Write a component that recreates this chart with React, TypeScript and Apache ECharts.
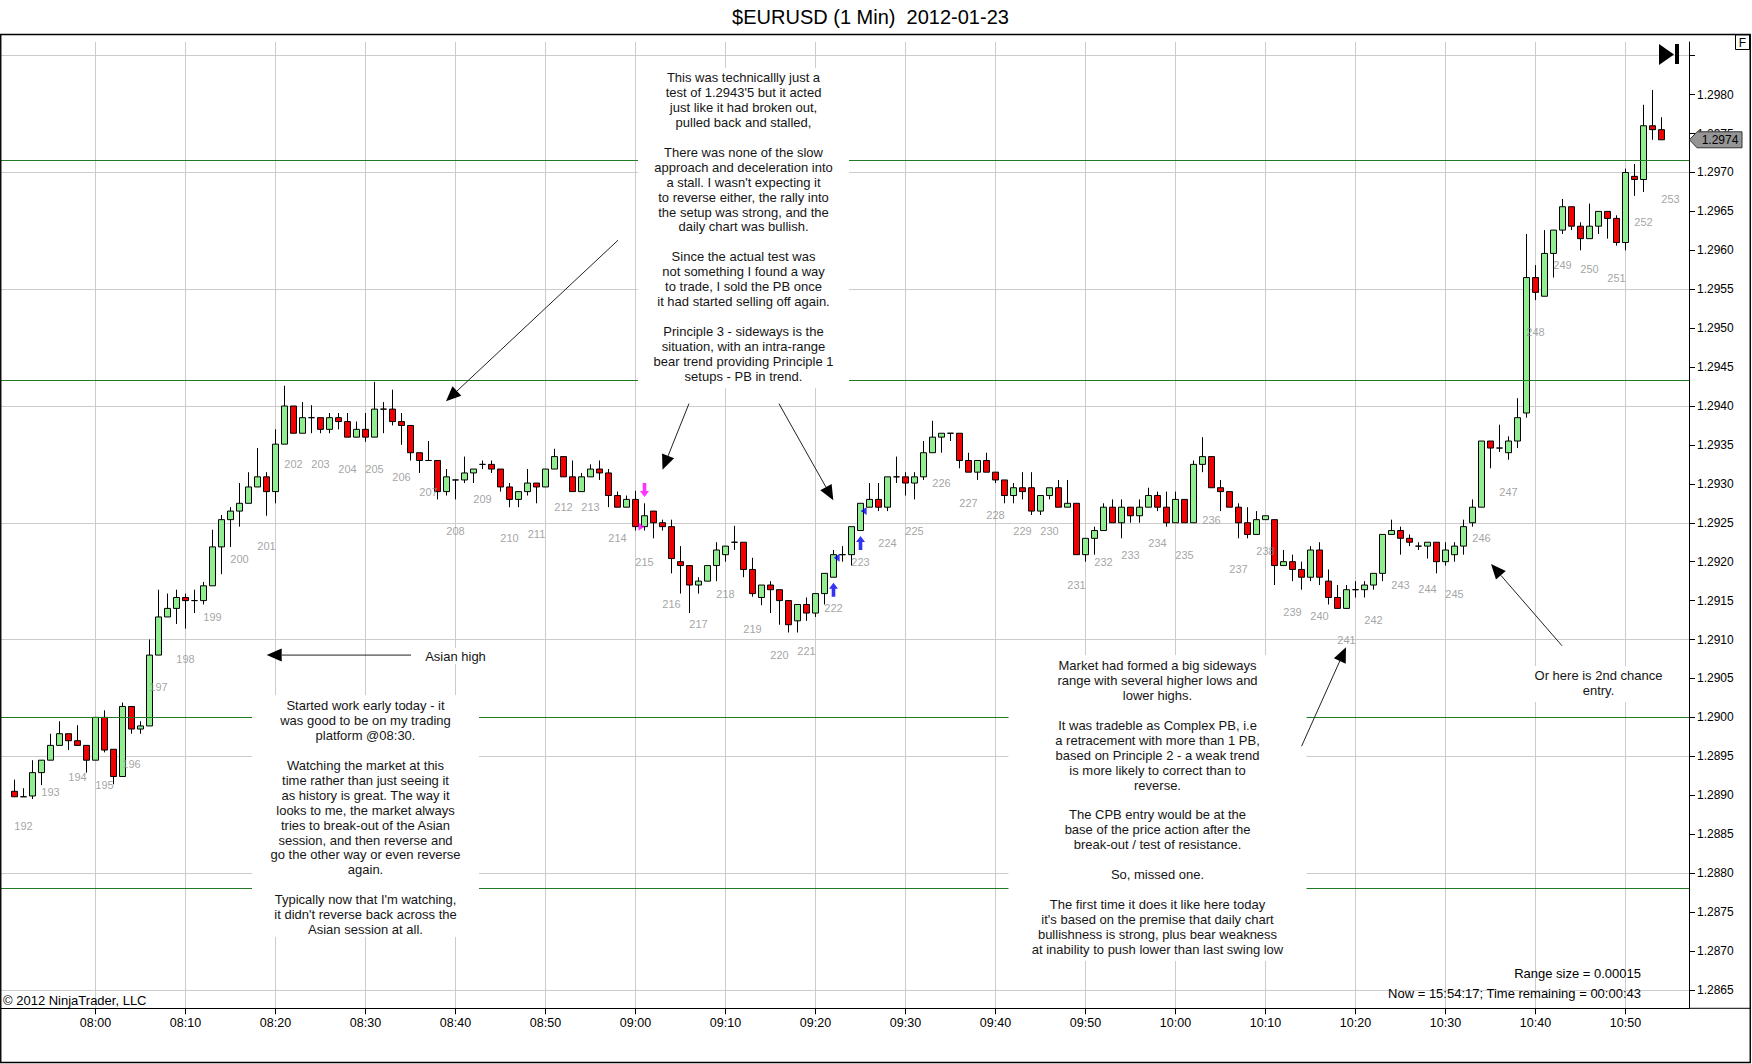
import React, { useEffect, useRef } from "react";
import * as echarts from "echarts";

const FONT = '"Liberation Sans", Arial, Helvetica, sans-serif';

// first bar: 07:51 (minutes after midnight), one bar per minute
const START_MINUTE = 471;

const OPEN = [
  1.28905, 1.28898, 1.28899, 1.28929, 1.28945, 1.28964, 1.28979, 1.2897, 1.28964, 1.28945,
  1.29, 1.28959, 1.28924, 1.29014, 1.28985, 1.28989, 1.2908, 1.29129, 1.2914, 1.29154,
  1.2915, 1.2915, 1.29169, 1.29219, 1.29254, 1.29265, 1.29275, 1.29296, 1.29309, 1.2929,
  1.29351, 1.294, 1.29365, 1.29385, 1.29385, 1.2937, 1.29385, 1.2938, 1.2936, 1.2937,
  1.2936, 1.29396, 1.29396, 1.2938, 1.29375, 1.2934, 1.2933, 1.2933, 1.2929, 1.29305,
  1.29305, 1.29314, 1.29325, 1.29325, 1.29319, 1.29296, 1.2928, 1.2929, 1.29301, 1.29296,
  1.29319, 1.29335, 1.29309, 1.2929, 1.29309, 1.29319, 1.29314, 1.29285, 1.2927, 1.2928,
  1.29245, 1.29265, 1.2925, 1.29245, 1.292, 1.29195, 1.2917, 1.29175, 1.29195, 1.29209,
  1.29225, 1.29225, 1.2919, 1.29154, 1.2917, 1.29164, 1.2915, 1.29124, 1.29145, 1.29134,
  1.29159, 1.2918, 1.29209, 1.29209, 1.2924, 1.2927, 1.2928, 1.2927, 1.29309, 1.29309,
  1.29301, 1.29309, 1.2934, 1.2936, 1.29365, 1.29365, 1.2933, 1.29315, 1.2933, 1.29315,
  1.29305, 1.29285, 1.29295, 1.29295, 1.29265, 1.29285, 1.29295, 1.2927, 1.29275, 1.29209,
  1.2923, 1.2924, 1.2927, 1.2925, 1.2927, 1.29259, 1.2927, 1.29285, 1.2927, 1.2925,
  1.2928, 1.2925, 1.29325, 1.29335, 1.29295, 1.2929, 1.2927, 1.2925, 1.29235, 1.29254,
  1.29254, 1.29195, 1.292, 1.2919, 1.2918, 1.29215, 1.29175, 1.29154, 1.2914, 1.29164,
  1.29164, 1.2917, 1.29185, 1.29235, 1.2924, 1.2923, 1.2922, 1.2922, 1.29225, 1.292,
  1.29209, 1.2922, 1.2925, 1.2927, 1.29355, 1.29346, 1.2934, 1.29355, 1.29391, 1.29565,
  1.29541, 1.29596, 1.29626, 1.29656, 1.29631, 1.29615, 1.29631, 1.2965, 1.29641, 1.2961,
  1.29695, 1.29691, 1.2976, 1.29755,
];
const HIGH = [
  1.2892, 1.28909, 1.28945, 1.28945, 1.28979, 1.28995, 1.28979, 1.2899, 1.28964, 1.29,
  1.29009, 1.28959, 1.29019, 1.29014, 1.28995, 1.291, 1.29164, 1.29159, 1.29164, 1.29159,
  1.29164, 1.29174, 1.29241, 1.2926, 1.2927, 1.29301, 1.29315, 1.29346, 1.29315, 1.2937,
  1.29426, 1.294, 1.29405, 1.29401, 1.29385, 1.29391, 1.29391, 1.29391, 1.2938, 1.29391,
  1.29431, 1.29405, 1.29421, 1.29391, 1.29375, 1.2934, 1.29355, 1.2933, 1.29319, 1.29305,
  1.29335, 1.29319, 1.2933, 1.2933, 1.29319, 1.29301, 1.2929, 1.29319, 1.29301, 1.29319,
  1.29345, 1.29335, 1.2933, 1.29314, 1.29325, 1.2933, 1.29319, 1.2929, 1.29285, 1.29291,
  1.29275, 1.29265, 1.29254, 1.29254, 1.2922, 1.29195, 1.2918, 1.29195, 1.29225, 1.2922,
  1.29246, 1.29225, 1.29205, 1.2917, 1.29175, 1.29164, 1.2915, 1.29145, 1.29154, 1.29159,
  1.29185, 1.29215, 1.2922, 1.29245, 1.29275, 1.29301, 1.29301, 1.29309, 1.29335, 1.29315,
  1.29315, 1.29355, 1.29381, 1.29365, 1.29365, 1.29365, 1.2934, 1.2933, 1.2934, 1.29315,
  1.29305, 1.29301, 1.29315, 1.29315, 1.29285, 1.29295, 1.29305, 1.29305, 1.29275, 1.2923,
  1.29245, 1.29275, 1.2928, 1.2928, 1.2927, 1.2928, 1.29295, 1.2929, 1.2929, 1.2929,
  1.2928, 1.2933, 1.2936, 1.29335, 1.29305, 1.2929, 1.29275, 1.2927, 1.29265, 1.29259,
  1.29254, 1.29215, 1.29209, 1.292, 1.2922, 1.29225, 1.2919, 1.2917, 1.2917, 1.29175,
  1.29175, 1.29185, 1.29235, 1.29254, 1.29245, 1.29235, 1.29225, 1.29225, 1.29225, 1.29225,
  1.29225, 1.29254, 1.2928, 1.29355, 1.29355, 1.29376, 1.29361, 1.2941, 1.29621, 1.29581,
  1.29626, 1.29626, 1.29666, 1.29656, 1.29636, 1.2966, 1.2965, 1.2965, 1.29645, 1.29705,
  1.29711, 1.29787, 1.29806, 1.29771,
];
const LOW = [
  1.28898, 1.28898, 1.28895, 1.28913, 1.28945, 1.28964, 1.28958, 1.28964, 1.28929, 1.28945,
  1.28955, 1.28914, 1.28924, 1.28979, 1.28979, 1.28989, 1.2908, 1.29129, 1.2912, 1.29114,
  1.29134, 1.29145, 1.29169, 1.29184, 1.29219, 1.29245, 1.29275, 1.29296, 1.29259, 1.29275,
  1.29351, 1.29365, 1.29365, 1.29365, 1.29365, 1.29365, 1.2937, 1.2936, 1.2936, 1.29354,
  1.2936, 1.29365, 1.29375, 1.2935, 1.2933, 1.29314, 1.2933, 1.2928, 1.29285, 1.2928,
  1.29301, 1.29301, 1.29319, 1.29314, 1.2929, 1.2927, 1.2927, 1.29285, 1.29275, 1.29296,
  1.29319, 1.29309, 1.2929, 1.2929, 1.29309, 1.29305, 1.2927, 1.2927, 1.2927, 1.2924,
  1.2924, 1.2923, 1.2924, 1.29185, 1.29159, 1.29134, 1.29159, 1.29175, 1.29175, 1.292,
  1.29215, 1.2918, 1.29155, 1.29144, 1.29134, 1.29119, 1.29109, 1.29109, 1.29124, 1.29129,
  1.29145, 1.2918, 1.292, 1.29195, 1.2924, 1.2927, 1.29265, 1.29265, 1.29301, 1.29285,
  1.2928, 1.29305, 1.2934, 1.2934, 1.29355, 1.2932, 1.29315, 1.29305, 1.29315, 1.29301,
  1.29275, 1.29275, 1.2928, 1.2926, 1.2926, 1.2928, 1.2927, 1.2927, 1.29209, 1.292,
  1.29209, 1.2924, 1.2925, 1.2923, 1.2925, 1.2925, 1.2927, 1.29265, 1.29245, 1.2925,
  1.2925, 1.2925, 1.29315, 1.29295, 1.29265, 1.2927, 1.2923, 1.2923, 1.29235, 1.29254,
  1.2917, 1.29195, 1.29175, 1.29164, 1.29175, 1.2917, 1.29145, 1.2914, 1.2914, 1.29154,
  1.29154, 1.29164, 1.29175, 1.29235, 1.29209, 1.2922, 1.29215, 1.29204, 1.29185, 1.29195,
  1.292, 1.29209, 1.29245, 1.2927, 1.2932, 1.29341, 1.29331, 1.29346, 1.29385, 1.29536,
  1.29541, 1.29565, 1.29621, 1.29626, 1.296, 1.29615, 1.29621, 1.29615, 1.29606, 1.296,
  1.2967, 1.29675, 1.29742, 1.29742,
];
const CLOSE = [
  1.28898, 1.28898, 1.28929, 1.28945, 1.28964, 1.28979, 1.2897, 1.28964, 1.28945, 1.29,
  1.28958, 1.28924, 1.29014, 1.28985, 1.28989, 1.2908, 1.29129, 1.2914, 1.29154, 1.2915,
  1.2915, 1.29169, 1.29219, 1.29254, 1.29265, 1.29275, 1.29296, 1.29309, 1.2929, 1.29351,
  1.294, 1.29365, 1.29385, 1.29385, 1.2937, 1.29385, 1.2938, 1.2936, 1.2937, 1.2936,
  1.29396, 1.29396, 1.2938, 1.29375, 1.2934, 1.2933, 1.2933, 1.2929, 1.29309, 1.29305,
  1.29314, 1.29319, 1.29325, 1.29319, 1.29296, 1.2928, 1.2929, 1.29301, 1.29296, 1.29319,
  1.29335, 1.29309, 1.2929, 1.29309, 1.29319, 1.29314, 1.29285, 1.2927, 1.2928, 1.29245,
  1.29259, 1.2925, 1.29245, 1.29204, 1.29195, 1.2917, 1.29175, 1.29195, 1.29215, 1.2922,
  1.29225, 1.2919, 1.29159, 1.2917, 1.29164, 1.2915, 1.29119, 1.29145, 1.29134, 1.29159,
  1.29185, 1.29209, 1.29209, 1.29245, 1.29275, 1.2928, 1.2927, 1.29309, 1.29309, 1.29301,
  1.29309, 1.2934, 1.2936, 1.29365, 1.29365, 1.2933, 1.29315, 1.2933, 1.29315, 1.29305,
  1.29285, 1.29295, 1.2929, 1.29265, 1.29285, 1.29295, 1.2927, 1.29275, 1.29209, 1.2923,
  1.2924, 1.2927, 1.2925, 1.2927, 1.29259, 1.2927, 1.29285, 1.2927, 1.2925, 1.2928,
  1.2925, 1.29325, 1.29335, 1.29295, 1.2929, 1.2927, 1.2925, 1.29235, 1.29254, 1.29259,
  1.29195, 1.292, 1.2919, 1.2918, 1.29215, 1.2918, 1.29154, 1.2914, 1.29164, 1.29164,
  1.2917, 1.29185, 1.29235, 1.2924, 1.2923, 1.29225, 1.2922, 1.29225, 1.292, 1.29215,
  1.2922, 1.29245, 1.2927, 1.29355, 1.29346, 1.29346, 1.29355, 1.29385, 1.29565, 1.29546,
  1.29596, 1.29626, 1.29656, 1.29631, 1.29615, 1.29631, 1.2965, 1.29641, 1.2961, 1.297,
  1.29691, 1.2976, 1.29755, 1.29742,
];

// bar-count labels: one every 3 bars, first (192) centred on 07:52
const BAR_LABEL_FIRST = 192;
const BAR_LABEL_FIRST_MINUTE = 472;
const BAR_LABEL_STEP = 3;
const BAR_LABEL_PRICE = [
  1.2886, 1.28904, 1.28924, 1.28913, 1.2894, 1.29039, 1.29075, 1.29129, 1.29204, 1.2922,
  1.29325, 1.29325, 1.29319, 1.29319, 1.29309, 1.2929, 1.2924, 1.2928, 1.2923, 1.29235,
  1.2927, 1.2927, 1.2923, 1.292, 1.29145, 1.2912, 1.29159, 1.29114, 1.2908, 1.29085,
  1.2914, 1.292, 1.29224, 1.2924, 1.29301, 1.29275, 1.2926, 1.2924, 1.2924, 1.2917,
  1.292, 1.29209, 1.29224, 1.29209, 1.29254, 1.2919, 1.29214, 1.29135, 1.2913, 1.291,
  1.29125, 1.2917, 1.29165, 1.29159, 1.2923, 1.2929, 1.29495, 1.29581, 1.29576, 1.29565,
  1.29636, 1.29666,
];

// axes
const X_TICKS = [480, 490, 500, 510, 520, 530, 540, 550, 560, 570, 580, 590, 600, 610, 620, 630, 640, 650];
const Y_LABELS = [
  1.2865, 1.287, 1.2875, 1.288, 1.2885, 1.289, 1.2895, 1.29, 1.2905, 1.291, 1.2915, 1.292,
  1.2925, 1.293, 1.2935, 1.294, 1.2945, 1.295, 1.2955, 1.296, 1.2965, 1.297, 1.2975, 1.298,
];
const Y_TICKS = [...Y_LABELS, 1.2985];
const Y_GRID = [1.2865, 1.288, 1.2895, 1.291, 1.2925, 1.294, 1.2955, 1.297, 1.2985];

// horizontal support / resistance levels
const LEVELS = [1.29716, 1.29433, 1.29, 1.2878];

// trade markers
const MARK_DOWN_PINK = [[541, 1.29292]];
const MARK_RIGHT_PINK = [[540.67, 1.29245]];
const MARK_UP_BLUE = [[562, 1.29164], [565, 1.29224]];
const MARK_LEFT_BLUE = [[562.35, 1.29205], [565.35, 1.29265]];

// annotation arrows (from -> to) in [minute, price]
const ARROWS = [
  { from: [538.06, 1.29613], to: [518.94, 1.29406] },
  { from: [545.94, 1.29403], to: [543.0, 1.29318] },
  { from: [555.94, 1.29403], to: [561.98, 1.29279] },
  { from: [614.01, 1.28963], to: [618.94, 1.2909] },
  { from: [642.94, 1.29092], to: [635.06, 1.29197] },
  { from: [515.06, 1.2908], to: [499.02, 1.2908] },
];

const BOX_A = [
  "This was technicallly just a",
  "test of 1.2943'5 but it acted",
  "just like it had broken out,",
  "pulled back and stalled,",
  "",
  "There was none of the slow",
  "approach and deceleration into",
  "a stall. I wasn't expecting it",
  "to reverse either, the rally into",
  "the setup was strong, and the",
  "daily chart was bullish.",
  "",
  "Since the actual test was",
  "not something I found a way",
  "to trade, I sold the PB once",
  "it had started selling off again.",
  "",
  "Principle 3 - sideways is the",
  "situation, with an intra-range",
  "bear trend providing Principle 1",
  "setups - PB in trend.",
];
const BOX_B = [
  "Started work early today - it",
  "was good to be on my trading",
  "platform @08:30.",
  "",
  "Watching the market at this",
  "time rather than just seeing it",
  "as history is great. The way it",
  "looks to me, the market always",
  "tries to break-out of the Asian",
  "session, and then reverse and",
  "go the other way or even reverse",
  "again.",
  "",
  "Typically now that I'm watching,",
  "it didn't reverse back across the",
  "Asian session at all.",
];
const BOX_C = [
  "Market had formed a big sideways",
  "range with several higher lows and",
  "lower highs.",
  "",
  "It was tradeble as Complex PB, i.e",
  "a retracement with more than 1 PB,",
  "based on Principle 2 - a weak trend",
  "is more likely to correct than to",
  "reverse.",
  "",
  "The CPB entry would be at the",
  "base of the price action after the",
  "break-out / test of resistance.",
  "",
  "So, missed one.",
  "",
  "The first time it does it like here today",
  "it's based on the premise that daily chart",
  "bullishness is strong, plus bear weakness",
  "at inability to push lower than last swing low",
];
const BOX_D = ["Or here is 2nd chance", "entry."];

const BOXES = [
  { t: 552, p: 1.298342, w: 211, h: 320, pad: 2.2, lines: BOX_A },
  { t: 510, p: 1.290287, w: 227, h: 242, pad: 3.2, lines: BOX_B },
  { t: 598, p: 1.290801, w: 298, h: 306, pad: 3.2, lines: BOX_C },
  { t: 647, p: 1.29066, w: 150, h: 36, pad: 2.5, lines: BOX_D },
];
const ASIAN_HIGH = { t: 520, p: 1.290788, text: "Asian high" };

const TITLE = "$EURUSD (1 Min)  2012-01-23";
const COPYRIGHT = "\u00a9 2012 NinjaTrader, LLC";
const RANGE_TEXT = "Range size = 0.00015";
const NOW_TEXT = "Now = 15:54:17; Time remaining = 00:00:43";

// layout
const W = 1752;
const H = 1064;
const GRID_LEFT = 1;
const GRID_TOP = 42;
const GRID_W = 1688;
const GRID_H = 966.3;
const X_MIN = 469.5;
const X_MAX = 469.5 + GRID_W / 9;
const PX_PER_PRICE = 77840;
const Y_MAX = 1.294 + (406 - GRID_TOP) / PX_PER_PRICE;
const Y_MIN = Y_MAX - GRID_H / PX_PER_PRICE;
const LINE_H = 14.93;

const pad2 = (n: number) => (n < 10 ? "0" + n : "" + n);
const fmtTime = (v: number) => pad2(Math.floor(v / 60)) + ":" + pad2(Math.round(v % 60));

export default function App() {
  const ref = useRef<HTMLDivElement>(null);

  useEffect(() => {
    if (!ref.current) return;
    document.body.style.margin = "0";
    const chart = echarts.init(ref.current, undefined, { renderer: "svg", width: W, height: H });

    const candles = OPEN.map((o, i) => [START_MINUTE + i, o, CLOSE[i], LOW[i], HIGH[i]]);
    const barLabels = BAR_LABEL_PRICE.map((p, i) => [
      BAR_LABEL_FIRST_MINUTE + i * BAR_LABEL_STEP,
      p,
      BAR_LABEL_FIRST + i,
    ]);

    const markers: any[] = [];
    MARK_DOWN_PINK.forEach((v) =>
      markers.push({
        value: v,
        symbol: "path://M3,0 L7,0 L7,8 L10,8 L5,14 L0,8 L3,8 Z",
        symbolSize: [9, 14],
        itemStyle: { color: "#ff00ff" },
      })
    );
    MARK_RIGHT_PINK.forEach((v) =>
      markers.push({
        value: v,
        symbol: "path://M0,0 L10,5 L0,10 Z",
        symbolSize: [6, 8],
        itemStyle: { color: "#ff00ff" },
      })
    );
    MARK_UP_BLUE.forEach((v) =>
      markers.push({
        value: v,
        symbol: "path://M5,0 L10,6 L7,6 L7,14 L3,14 L3,6 L0,6 Z",
        symbolSize: [9, 14],
        itemStyle: { color: "#0000ee" },
      })
    );
    MARK_LEFT_BLUE.forEach((v) =>
      markers.push({
        value: v,
        symbol: "path://M10,0 L0,5 L10,10 Z",
        symbolSize: [6, 8],
        itemStyle: { color: "#0000ee" },
      })
    );

    const option: any = {
      animation: false,
      backgroundColor: "#ffffff",
      textStyle: { fontFamily: FONT },
      tooltip: { show: false },
      grid: { left: GRID_LEFT, top: GRID_TOP, width: GRID_W, height: GRID_H, show: false },
      xAxis: {
        type: "value",
        min: X_MIN,
        max: X_MAX,
        axisLine: { show: true, onZero: false, lineStyle: { color: "#000", width: 1 } },
        axisTick: { show: true, length: 6, lineStyle: { color: "#000" }, customValues: X_TICKS },
        axisLabel: {
          customValues: X_TICKS,
          formatter: (v: number) => fmtTime(v),
          color: "#000",
          fontSize: 12.5,
          fontFamily: FONT,
          margin: 8,
        },
        splitLine: { show: true, lineStyle: { color: "#cccccc", width: 1 } },
      },
      yAxis: [
        {
          type: "value",
          position: "right",
          min: Y_MIN,
          max: Y_MAX,
          axisLine: { show: true, lineStyle: { color: "#000", width: 1 } },
          axisTick: { show: true, length: 6, lineStyle: { color: "#000" }, customValues: Y_TICKS },
          axisLabel: {
            customValues: Y_LABELS,
            formatter: (v: number) => v.toFixed(4),
            color: "#000",
            fontSize: 12,
            fontFamily: FONT,
            margin: 8,
          },
          splitLine: { show: false },
        },
        {
          type: "value",
          position: "left",
          min: Y_MIN,
          max: Y_MAX,
          axisLine: { show: false },
          axisTick: { show: false, customValues: Y_GRID },
          axisLabel: { show: false },
          splitLine: { show: true, lineStyle: { color: "#cccccc", width: 1 } },
        },
      ],
      series: [
        {
          type: "candlestick",
          silent: true,
          data: candles,
          barWidth: 7,
          itemStyle: {
            color: "#90ee90",
            color0: "#f00000",
            borderColor: "#000000",
            borderColor0: "#000000",
            borderColorDoji: "#000000",
            borderWidth: 1,
          },
          markLine: {
            silent: true,
            precision: 6,
            symbol: ["none", "none"],
            label: { show: false },
            lineStyle: { color: "#227a22", width: 1, type: "solid" },
            data: LEVELS.map((v) => ({ yAxis: v })),
          },
        },
        {
          type: "scatter",
          silent: true,
          data: barLabels,
          symbol: "rect",
          symbolSize: 1,
          itemStyle: { color: "transparent" },
          label: {
            show: true,
            position: "inside",
            formatter: (p: any) => String(p.value[2]),
            color: "#8c8c8c",
            fontSize: 11,
            fontFamily: FONT,
          },
          z: 3,
        },
        {
          type: "scatter",
          silent: true,
          data: markers,
          z: 4,
        },
      ],
    };

    chart.setOption(option);

    const px = (t: number, p: number) =>
      chart.convertToPixel({ seriesIndex: 0 }, [t, p]) as unknown as number[];

    const g: any[] = [];

    // title
    g.push({
      type: "text",
      x: 870.5,
      y: 17.3,
      z: 100,
      style: {
        text: TITLE,
        fill: "#000",
        fontSize: 20,
        fontFamily: FONT,
        align: "center",
        verticalAlign: "middle",
      },
    });

    // annotation boxes
    BOXES.forEach((b) => {
      const [cx, top] = px(b.t, b.p);
      g.push({
        type: "rect",
        z: 50,
        shape: { x: cx - b.w / 2, y: top, width: b.w, height: b.h },
        style: { fill: "#ffffff", stroke: null },
      });
      g.push({
        type: "text",
        z: 51,
        x: cx,
        y: top + b.pad,
        style: {
          text: b.lines.join("\n"),
          fill: "#151515",
          fontSize: 13,
          fontFamily: FONT,
          lineHeight: LINE_H,
          align: "center",
          verticalAlign: "top",
        },
      });
    });

    // Asian high label
    {
      const [cx, cy] = px(ASIAN_HIGH.t, ASIAN_HIGH.p);
      g.push({
        type: "rect",
        z: 50,
        shape: { x: cx - 34, y: cy - 8, width: 68, height: 16 },
        style: { fill: "#ffffff" },
      });
      g.push({
        type: "text",
        z: 51,
        x: cx,
        y: cy,
        style: {
          text: ASIAN_HIGH.text,
          fill: "#151515",
          fontSize: 13,
          fontFamily: FONT,
          align: "center",
          verticalAlign: "middle",
        },
      });
    }

    // arrows
    ARROWS.forEach((a) => {
      const [x1, y1] = px(a.from[0], a.from[1]);
      const [x2, y2] = px(a.to[0], a.to[1]);
      const dx = x2 - x1;
      const dy = y2 - y1;
      const L = Math.hypot(dx, dy) || 1;
      const ux = dx / L;
      const uy = dy / L;
      const hl = 15;
      const hw = 6.5;
      const bx = x2 - ux * hl;
      const by = y2 - uy * hl;
      g.push({
        type: "line",
        z: 55,
        shape: { x1, y1, x2: bx, y2: by },
        style: { stroke: "#222", lineWidth: 1 },
      });
      g.push({
        type: "polygon",
        z: 55,
        shape: {
          points: [
            [x2, y2],
            [bx - uy * hw, by + ux * hw],
            [bx + uy * hw, by - ux * hw],
          ],
        },
        style: { fill: "#000" },
      });
    });

    // last price tag
    {
      const last = CLOSE[CLOSE.length - 1];
      const [, ty] = px(START_MINUTE + CLOSE.length - 1, last);
      const ax = GRID_LEFT + GRID_W;
      g.push({
        type: "polygon",
        z: 60,
        shape: {
          points: [
            [ax + 0.5, ty],
            [ax + 8, ty - 8],
            [1742, ty - 8],
            [1742, ty + 8],
            [ax + 8, ty + 8],
          ],
        },
        style: { fill: "#959595", stroke: "#333", lineWidth: 1 },
      });
      g.push({
        type: "text",
        z: 61,
        x: 1720,
        y: ty + 0.5,
        style: {
          text: last.toFixed(4),
          fill: "#000",
          fontSize: 12,
          fontFamily: FONT,
          align: "center",
          verticalAlign: "middle",
        },
      });
    }

    // chrome: outer frame, axis extension, icons, texts
    g.push({
      type: "rect",
      z: 70,
      shape: { x: 0.75, y: 34.5, width: 1749.5, height: 1028 },
      style: { fill: "none", stroke: "#000", lineWidth: 1.4 },
    });
    g.push({
      type: "line",
      z: 70,
      shape: { x1: GRID_LEFT + GRID_W, y1: GRID_TOP + GRID_H, x2: 1750, y2: GRID_TOP + GRID_H },
      style: { stroke: "#000", lineWidth: 1 },
    });
    g.push({
      type: "polygon",
      z: 70,
      shape: { points: [[1659, 44], [1674, 54.5], [1659, 65]] },
      style: { fill: "#000" },
    });
    g.push({
      type: "rect",
      z: 70,
      shape: { x: 1675, y: 44, width: 4, height: 20 },
      style: { fill: "#000" },
    });
    g.push({
      type: "rect",
      z: 70,
      shape: { x: 1735.5, y: 35, width: 14, height: 14.5 },
      style: { fill: "#fff", stroke: "#000", lineWidth: 1 },
    });
    g.push({
      type: "text",
      z: 71,
      x: 1742.5,
      y: 42.5,
      style: { text: "F", fill: "#000", fontSize: 12, fontFamily: FONT, align: "center", verticalAlign: "middle" },
    });
    g.push({
      type: "text",
      z: 71,
      x: 3,
      y: 1000.7,
      style: { text: COPYRIGHT, fill: "#000", fontSize: 13, fontFamily: FONT, align: "left", verticalAlign: "middle" },
    });
    g.push({
      type: "text",
      z: 71,
      x: 1641,
      y: 973.3,
      style: { text: RANGE_TEXT, fill: "#000", fontSize: 13, fontFamily: FONT, align: "right", verticalAlign: "middle" },
    });
    g.push({
      type: "text",
      z: 71,
      x: 1641,
      y: 993.3,
      style: { text: NOW_TEXT, fill: "#000", fontSize: 13, fontFamily: FONT, align: "right", verticalAlign: "middle" },
    });

    chart.setOption({ graphic: g });

    return () => {
      chart.dispose();
    };
  }, []);

  return (
    <div style={{ position: "absolute", left: 0, top: 0, width: W, height: H, overflow: "hidden", background: "#fff" }}>
      <div ref={ref} style={{ width: W, height: H }} />
    </div>
  );
}
